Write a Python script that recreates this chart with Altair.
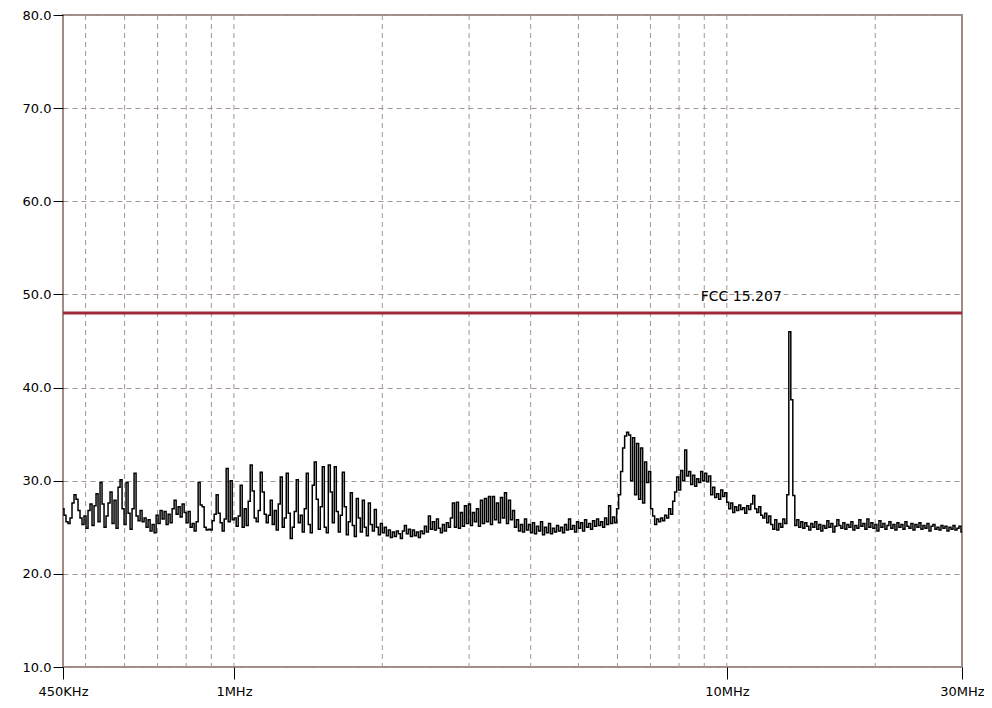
import altair as alt
import pandas as pd
import numpy as np

# Sweep: start / stop frequency (Hz) and measured levels (dBuV), one per sweep point
start_hz = 450e3
stop_hz = 30e6
levels = [
    27.0, 26.3, 25.6, 25.4, 26.0, 27.6, 28.5, 28.0, 26.8, 26.0,
    25.3, 26.2, 24.9, 26.8, 27.5, 25.2, 27.3, 28.6, 25.6, 29.8,
    27.5, 25.0, 26.2, 27.6, 28.8, 25.4, 27.9, 24.9, 29.3, 30.1,
    27.0, 25.3, 29.8, 26.5, 24.8, 27.0, 30.8, 26.2, 25.7, 26.8,
    25.6, 26.0, 25.0, 25.8, 24.6, 25.3, 24.4, 26.3, 25.4, 26.8,
    25.9, 26.7, 25.3, 26.4, 25.5, 27.0, 27.9, 26.4, 27.2, 26.1,
    27.5, 26.6, 25.5, 26.7, 25.0, 25.4, 24.6, 25.6, 29.8, 27.4,
    27.2, 25.0, 24.7, 24.8, 24.7, 25.7, 26.4, 28.5, 26.5, 25.5,
    24.6, 25.9, 31.3, 25.6, 30.0, 25.8, 26.0, 25.1, 26.2, 29.5,
    25.0, 27.0, 25.2, 27.8, 31.7, 28.9, 26.0, 25.6, 26.8, 30.9,
    28.8, 26.4, 25.5, 26.3, 27.9, 25.3, 26.8, 24.7, 27.5, 30.4,
    25.0, 26.0, 30.8, 26.5, 23.8, 25.0, 26.7, 30.1, 25.5, 26.3,
    24.5, 27.0, 30.8, 25.3, 24.4, 29.5, 32.0, 28.0, 24.8, 27.2,
    31.5, 25.0, 24.4, 31.7, 28.8, 25.5, 31.5, 26.7, 24.5, 26.3,
    30.9, 27.2, 24.2, 25.6, 28.7, 25.2, 24.0, 28.1, 26.0, 24.5,
    27.9, 25.0, 24.1, 27.6, 25.3, 24.6, 26.9, 25.0, 24.2, 25.4,
    24.4, 25.0, 24.1, 24.7, 23.9, 24.5, 24.0, 24.6, 24.3, 23.8,
    24.6, 25.2, 24.3, 24.8, 24.0, 24.7, 24.1, 24.5, 23.9, 24.6,
    24.3, 25.1, 24.5, 26.2, 24.8, 25.6, 24.7, 25.9, 24.9, 24.4,
    25.3, 24.6, 25.5, 25.0, 26.0, 27.6, 25.0, 27.7, 24.9, 26.6,
    25.1, 27.3, 25.4, 27.5, 25.2, 26.6, 25.6, 27.0, 25.1, 27.9,
    25.4, 28.1, 25.6, 28.3, 25.3, 28.3, 25.8, 27.6, 25.5, 28.2,
    26.0, 28.7, 25.4, 27.9, 25.8, 26.8, 25.0, 25.8, 24.6, 25.3,
    24.5, 25.9, 24.7, 25.3, 24.4, 25.5, 24.3, 25.1, 24.6, 25.6,
    24.2, 25.0, 24.4, 25.4, 24.3, 24.9, 24.5, 25.2, 24.6, 25.0,
    24.4, 25.3, 24.7, 25.9, 24.8, 25.2, 24.5, 25.6, 24.9, 25.5,
    24.6, 25.8, 25.0, 25.4, 24.8, 25.7, 25.1, 25.9, 25.2, 25.6,
    25.0, 26.0, 25.3, 27.3, 25.4, 26.1, 25.5, 27.0, 28.5, 31.0,
    33.5, 34.8, 35.2, 34.9, 30.0, 34.6, 28.5, 34.0, 28.0, 33.5,
    27.6, 32.0, 29.8, 31.0, 27.0, 26.2, 25.3, 25.9, 25.6, 26.0,
    25.7, 26.3, 26.0, 27.0, 26.4, 27.8, 28.8, 30.4, 29.0, 31.1,
    30.0, 33.3, 30.5, 31.0, 29.6, 30.6, 29.4, 30.2, 29.8, 31.0,
    30.0, 30.8, 29.9, 30.5, 28.5, 29.3, 28.2, 28.6, 28.0, 29.0,
    28.3, 28.7, 27.7, 27.0, 27.6, 26.6, 27.2, 26.8, 27.4, 26.9,
    27.1, 26.5, 27.3, 26.9, 27.5, 28.4, 27.0, 26.6, 27.2, 26.3,
    26.0, 26.5, 25.5, 26.2, 25.3, 24.8, 25.8, 24.7, 25.4, 25.0,
    25.9, 25.4, 28.5, 46.0, 38.7, 28.4, 25.2, 25.8, 25.0, 25.6,
    24.9, 25.5, 25.1, 24.7, 25.4, 25.0, 25.6, 24.8, 25.3, 24.6,
    25.2, 24.9, 25.7, 25.0, 25.4, 24.5, 25.1, 25.8, 25.2, 24.9,
    25.5, 24.8, 25.3, 25.0, 25.6, 24.7, 25.2, 24.9, 25.8, 25.1,
    25.4, 24.8, 25.9, 25.0, 25.5, 24.9, 25.3, 24.6, 25.7, 25.0,
    25.4, 24.8, 25.2, 25.6, 24.9, 25.3, 24.7, 25.5, 25.0, 25.3,
    24.8, 25.6, 25.1, 24.9, 25.4, 24.7, 25.3, 25.0, 25.5, 24.8,
    25.2, 24.9, 25.4, 24.6, 25.1, 25.3, 24.8, 25.0, 24.7, 25.2,
    24.9, 25.1, 24.6, 25.0, 24.8, 25.2, 24.7, 24.9, 25.1, 24.5,
]

tick_values = [450e3, 1e6, 10e6, 30e6]
tick_labels = ["450KHz", "1MHz", "10MHz", "30MHz"]
grid_freqs = [500e3, 600e3, 700e3, 800e3, 900e3, 1e6, 2e6, 3e6, 4e6, 5e6,
              6e6, 7e6, 8e6, 9e6, 10e6, 20e6]
y_ticks = [10, 20, 30, 40, 50, 60, 70, 80]

limit_db = 48.0
limit_name = "FCC 15.207"
limit_label_hz = 10.7e6
limit_label_db = 49.7

# sweep points are log-spaced between start and stop
n = len(levels)
freqs = start_hz * (stop_hz / start_hz) ** (np.arange(n) / (n - 1))
trace = pd.DataFrame({"f": freqs, "db": levels})

label_expr = " : ".join(
    f"datum.value == {v:.0f} ? '{l}'" for v, l in zip(tick_values, tick_labels)
) + " : ''"

GRID = "#a3958f"
FRAME = "#9e8d87"
FONT = "DejaVu Sans"

xscale = alt.Scale(type="log", domain=[start_hz, stop_hz], nice=False)
yscale = alt.Scale(domain=[10, 80], nice=False)

xaxis = alt.Axis(values=tick_values, labelExpr=label_expr, grid=False, domain=False,
                 tickColor="black", tickSize=12, tickWidth=1, labelPadding=6,
                 labelFont=FONT, labelFontSize=13, labelColor="black",
                 labelFlush=False, labelOverlap=False, title=None)
yaxis = alt.Axis(values=y_ticks, format=".1f", grid=True, gridDash=[5, 4],
                 gridColor=GRID, gridWidth=1, domain=False,
                 tickColor="black", tickSize=10, tickWidth=1, labelPadding=2,
                 labelFont=FONT, labelFontSize=13, labelColor="black", title=None)

vgrid = alt.Chart(pd.DataFrame({"f": grid_freqs})).mark_rule(
    color=GRID, strokeDash=[5, 4], strokeWidth=1
).encode(x=alt.X("f:Q", scale=xscale, axis=xaxis))

line = alt.Chart(trace).mark_line(color="black", strokeWidth=1.5,
                                  interpolate="step").encode(
    x=alt.X("f:Q", scale=xscale, axis=xaxis),
    y=alt.Y("db:Q", scale=yscale, axis=yaxis),
)

limit = alt.Chart(pd.DataFrame({"db": [limit_db]})).mark_rule(
    color="#a0283a", strokeWidth=3
).encode(y=alt.Y("db:Q", scale=yscale, axis=yaxis))

label = alt.Chart(pd.DataFrame({"f": [limit_label_hz], "db": [limit_label_db],
                                "t": [limit_name]})).mark_text(
    font=FONT, fontSize=14, color="black", align="center", baseline="middle"
).encode(x=alt.X("f:Q", scale=xscale, axis=xaxis),
         y=alt.Y("db:Q", scale=yscale, axis=yaxis), text="t:N")

chart = alt.layer(vgrid, limit, line, label).properties(
    width=899, height=652,
    background="white",
    autosize=alt.AutoSizeParams(type="none"),
    padding={"left": 55, "top": 7, "right": 22, "bottom": 33},
).configure_view(stroke=FRAME, strokeWidth=2)

chart.save("out.html", embed_options={"renderer": "svg", "actions": False})
